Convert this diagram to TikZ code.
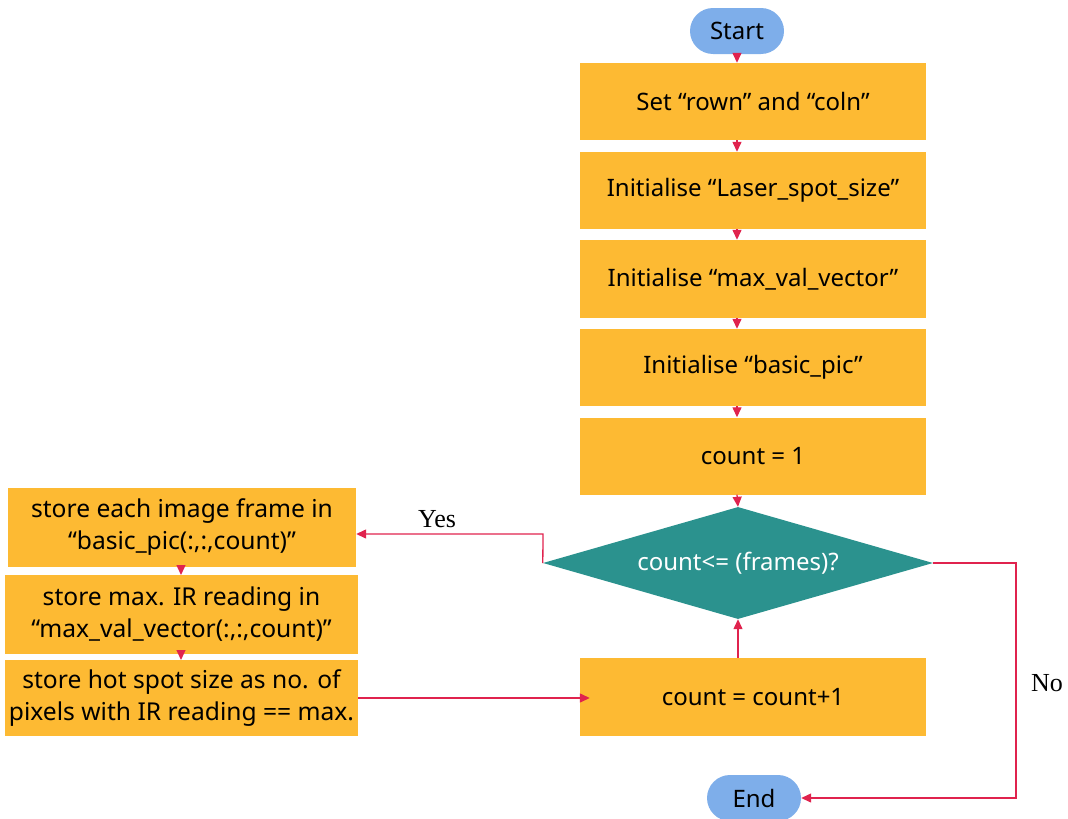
\documentclass[tikz,border=0pt]{standalone}
\usepackage{fontspec}
\setmainfont{Noto Sans}
\newfontfamily\labelserif{Liberation Serif}
\usetikzlibrary{shapes.geometric,arrows.meta}
\definecolor{boxor}{HTML}{FDBA33}
\definecolor{teal}{HTML}{2B928E}
\definecolor{term}{HTML}{7EAEEA}
\definecolor{arr}{HTML}{E0234E}
\begin{document}
\begin{tikzpicture}[x=1pt,y=-1pt,
  procbox/.style={rectangle,fill=boxor,draw=none,inner sep=0pt,align=center,
    font=\fontsize{24}{32}\selectfont},
  leftbox/.style={procbox,font=\fontsize{24.6}{32}\selectfont},
  termbox/.style={rectangle,rounded corners=23pt,fill=term,draw=none,inner sep=0pt,
    minimum width=94pt,minimum height=46pt,font=\fontsize{24}{28}\selectfont},
  decbox/.style={diamond,aspect=3.5,fill=teal,draw=none,inner sep=0pt,text=white,
    minimum width=390pt,minimum height=112pt,font=\fontsize{24}{28}\selectfont},
  conn/.style={draw=arr,line width=1.3pt,-{Triangle[length=10pt,width=9pt]}},
  yesno/.style={font=\labelserif\fontsize{26}{30}\selectfont}
]
\useasboundingbox (0,0) rectangle (1068,819);

\node[termbox] (start) at (737,31) {Start};
\node[procbox,minimum width=346pt,minimum height=77pt] (b1) at (753,101.5) {Set “rown” and “coln”};
\node[procbox,minimum width=346pt,minimum height=77pt] (b2) at (753,190.5) {Initialise “Laser\_spot\_size”};
\node[procbox,minimum width=346pt,minimum height=78pt] (b3) at (753,279) {Initialise “max\_val\_vector”};
\node[procbox,minimum width=346pt,minimum height=77pt] (b4) at (753,367.5) {Initialise “basic\_pic”};
\node[procbox,minimum width=346pt,minimum height=77pt] (b5) at (753,456) {count = 1};
\node[decbox] (dec) at (738,563) {count<= (frames)?};
\node[procbox,minimum width=346pt,minimum height=78pt] (b6) at (753,697) {count = count+1};
\node[termbox] (end) at (754,798) {End};

\node[leftbox,minimum width=348pt,minimum height=79pt] (l1) at (182,527.5) {store each image frame in\\“basic\_pic(:,:,count)”};
\node[leftbox,minimum width=353pt,minimum height=79pt] (l2) at (181.5,614.5) {store max. IR reading in\\“max\_val\_vector(:,:,count)”};
\node[leftbox,minimum width=353pt,minimum height=76pt] (l3) at (181.5,698) {store hot spot size as no. of\\pixels with IR reading == max.};

\draw[conn] (start) -- (start |- b1.north);
\draw[conn] (start |- b1.south) -- (start |- b2.north);
\draw[conn] (start |- b2.south) -- (start |- b3.north);
\draw[conn] (start |- b3.south) -- (start |- b4.north);
\draw[conn] (start |- b4.south) -- (start |- b5.north);
\draw[conn] (start |- b5.south) -- (dec.north);
\draw[conn] (dec.south |- b6.north) -- (dec.south);

\coordinate (yk) at (543,534);
\draw[conn] (dec.west) -- (yk) -- (yk -| l1.east);
\node[yesno] (yes) at (437,519) {Yes};

\draw[conn] (181,566.5) -- (181,575);
\draw[conn] (181,654) -- (181,660);
\draw[conn,shorten >=-10pt] (l3.east) -- (b6.west |- l3.east);

\coordinate (nk) at (1016,563);
\draw[conn] (dec.east) -- (nk) -- (nk |- end.east) -- (end.east);
\node[yesno] (no) at (1047,683) {No};
\end{tikzpicture}
\end{document}
